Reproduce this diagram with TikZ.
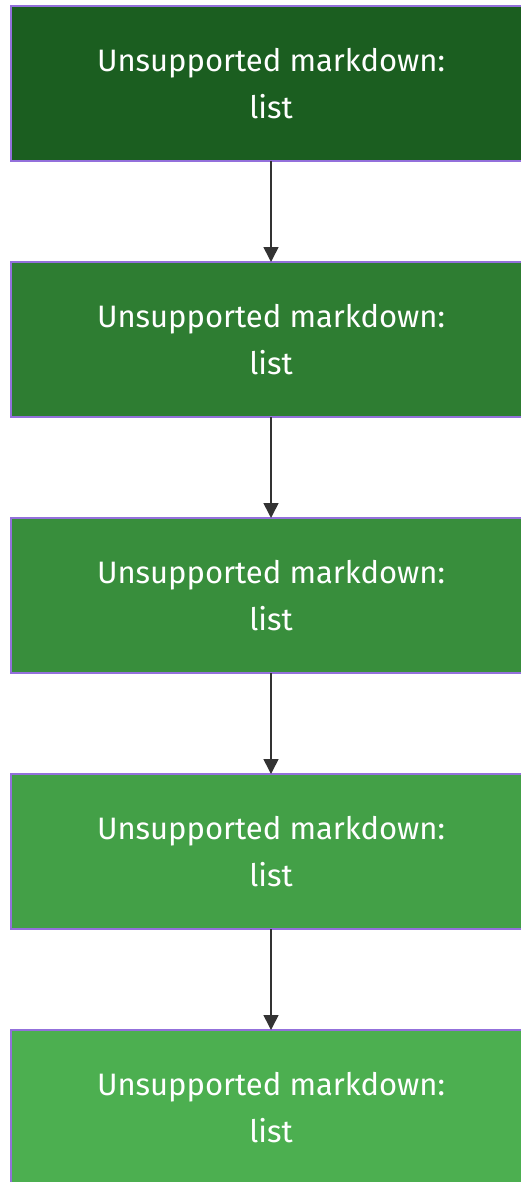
\documentclass[tikz,border=0pt]{standalone}
\usepackage{fontspec}
\setmainfont{Fira Sans}
\usepackage{tikz}
\usetikzlibrary{positioning,arrows.meta}
\definecolor{edgepurple}{HTML}{9370DB}
\definecolor{arrowgray}{HTML}{333333}
\definecolor{greenA}{HTML}{1B5E20}
\definecolor{greenB}{HTML}{2E7D32}
\definecolor{greenC}{HTML}{388E3C}
\definecolor{greenD}{HTML}{43A047}
\definecolor{greenE}{HTML}{4CAF50}

\begin{document}
\begin{tikzpicture}[x=1pt,y=1pt,
		mdbox/.style={draw=edgepurple,line width=1.8pt,minimum width=520pt,minimum height=155pt,
			inner sep=0pt,outer sep=0pt,align=center,text=white,font=\fontsize{31}{47}\selectfont},
		flow/.style={draw=arrowgray,line width=1.6pt,-{Triangle[length=15pt,width=15pt]}},
		node distance=101pt]
			\useasboundingbox (0,0) rectangle (521,-1182);
			\clip (0,0) rectangle (521,-1182);
			\node[mdbox,fill=greenA] (md1) at (271,-83.5) {Unsupported markdown:\\list};
			\node[mdbox,fill=greenB,below=of md1] (md2) {Unsupported markdown:\\list};
			\node[mdbox,fill=greenC,below=of md2] (md3) {Unsupported markdown:\\list};
			\node[mdbox,fill=greenD,below=of md3] (md4) {Unsupported markdown:\\list};
			\node[mdbox,fill=greenE,below=of md4] (md5) {Unsupported markdown:\\list};
			\draw[flow] (md1) -- (md2);
			\draw[flow] (md2) -- (md3);
			\draw[flow] (md3) -- (md4);
			\draw[flow] (md4) -- (md5);
		\end{tikzpicture}
\end{document}
